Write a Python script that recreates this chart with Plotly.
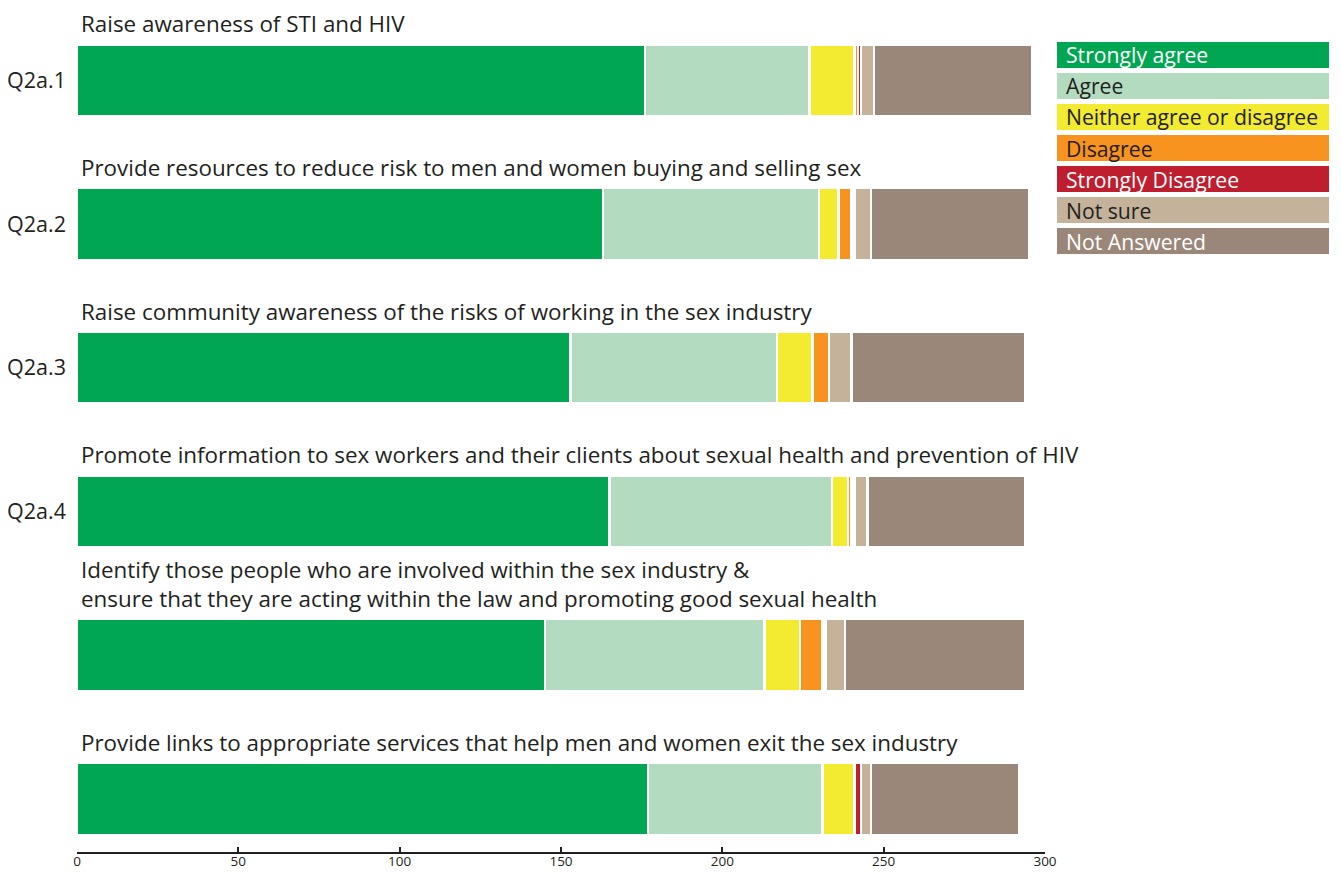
import plotly.graph_objects as go

# survey questions (one bar each), top to bottom
questions = [
    "Raise awareness of STI and HIV",
    "Provide resources to reduce risk to men and women buying and selling sex",
    "Raise community awareness of the risks of working in the sex industry",
    "Promote information to sex workers and their clients about sexual health and prevention of HIV",
    "Identify those people who are involved within the sex industry &<br>ensure that they are acting within the law and promoting good sexual health",
    "Provide links to appropriate services that help men and women exit the sex industry",
]
codes = ["Q2a.1", "Q2a.2", "Q2a.3", "Q2a.4", "", ""]

responses = ["Strongly agree", "Agree", "Neither agree or disagree", "Disagree",
             "Strongly Disagree", "Not sure", "Not Answered"]

strongly_agree = [176, 163, 153, 165, 145, 177]
agree = [51, 67, 64, 69, 68, 54]
neither = [14, 6, 11, 5, 11, 10]
disagree = [1, 4, 5, 1, 7, 0]
strongly_disagree = [1, 1, 0, 1, 1, 2]
not_sure = [4, 5, 7, 4, 6, 3]
not_answered = [49, 49, 54, 49, 56, 46]

series = [strongly_agree, agree, neither, disagree, strongly_disagree, not_sure, not_answered]
colors = ["#00A651", "#B3DBC0", "#F3EB2F", "#F7931E", "#BE1E2D", "#C4B29A", "#9B8779"]
text_colors = ["white", "#231F20", "#231F20", "#231F20", "white", "#231F20", "white"]

FONT = "Open Sans"
# the page body adds an 8px margin, so the figure is 8px smaller and all
# pixel targets are shifted by -8
OFF = 8
W, H = 1341 - OFF, 872 - OFF
L, R, T, B = 77 - OFF, 296, 10 - OFF, 20

fig = go.Figure()
for name, vals, col in zip(responses, series, colors):
    fig.add_trace(go.Bar(
        y=questions, x=vals, orientation="h", name=name,
        marker=dict(color=col, line=dict(color="white", width=2.5)),
        width=0.5, showlegend=False, hoverinfo="x+name"
    ))

# question titles above each bar
for q in questions:
    fig.add_annotation(x=0, y=q, xref="x", yref="y", text=q, showarrow=False,
                       xanchor="left", yanchor="bottom", align="left",
                       xshift=3, yshift=40, borderpad=0,
                       font=dict(family=FONT, size=22.4, color="#231F20"))

# legend drawn as coloured boxes with text inside
def px_x(p):
    return (p - OFF - L) / (W - L - R)

def px_y(p):
    return 1 - (p - OFF - T) / (H - T - B)

for i, (name, col, tc) in enumerate(zip(responses, colors, text_colors)):
    top = 42 + i * 31
    fig.add_shape(type="rect", xref="paper", yref="paper",
                  x0=px_x(1057), x1=px_x(1329), y0=px_y(top), y1=px_y(top + 26),
                  fillcolor=col, line=dict(width=0), layer="above")
    fig.add_annotation(x=px_x(1064), y=px_y(top + 13), xref="paper", yref="paper",
                       text=name, showarrow=False, xanchor="left", yanchor="middle",
                       font=dict(family=FONT, size=21.2, color=tc))

fig.update_layout(
    barmode="stack",
    width=W, height=H,
    margin=dict(l=L, r=R, t=T, b=B, autoexpand=False),
    plot_bgcolor="white", paper_bgcolor="white",
    font=dict(family=FONT, color="#231F20"),
    xaxis=dict(range=[0, 300], tickvals=[0, 50, 100, 150, 200, 250, 300],
               automargin=False,
               showgrid=False, zeroline=False, showline=True, linecolor="#231F20",
               linewidth=2, ticks="inside", ticklen=5, tickwidth=2, tickcolor="#231F20",
               ticklabelstandoff=-4,
               tickfont=dict(family=FONT, size=13.5, color="#231F20")),
    yaxis=dict(type="category", categoryorder="array", categoryarray=questions,
               range=[5.37, -0.49], tickvals=questions, ticktext=codes,
               automargin=False,
               showgrid=False, zeroline=False, showline=False, ticks="",
               ticklabelstandoff=10,
               tickfont=dict(family=FONT, size=21.5, color="#231F20")),
)

fig.write_html("out.html")
